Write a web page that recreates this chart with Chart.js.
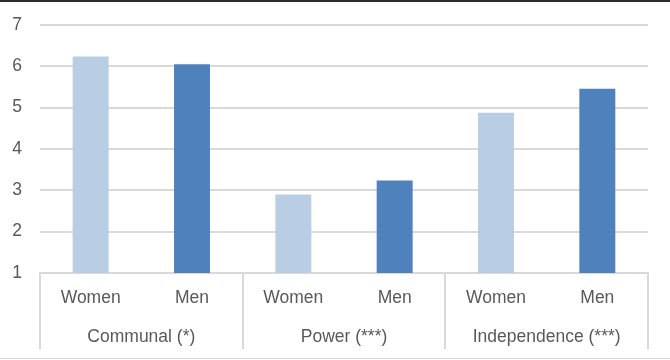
<!DOCTYPE html>
<html>
<head>
<meta charset="utf-8">
<script src="https://cdn.jsdelivr.net/npm/chart.js@4"></script>
<style>
  html, body { margin: 0; padding: 0; background: #fff; }
  #wrap { position: relative; width: 670px; height: 360px; }
  #chart { display: block; }
  #topLine { position: absolute; left: 0; top: 0; width: 670px; height: 2px; background: #2b2b2b; }
  #bottomLine { position: absolute; left: 0; top: 358px; width: 670px; height: 1px; background: #d9d9d9; }
</style>
</head>
<body>
<div id="wrap">
  <canvas id="chart" width="670" height="360"></canvas>
  <div id="topLine"></div>
  <div id="bottomLine"></div>
</div>
<script>
// values
const groups = ['Communal (*)', 'Power (***)', 'Independence (***)'];
const genders = ['Women', 'Men'];
const women = [6.24, 2.90, 4.88];
const men = [6.05, 3.24, 5.46];
const yTicks = [1, 2, 3, 4, 5, 6, 7];

const womenColor = '#B9CDE5';
const menColor = '#4F81BD';
const gridColor = '#D9D9D9';
const textColor = '#595959';
const font = { family: "'Liberation Sans', Arial, sans-serif", size: 17.5 };

// flatten into one bar per gender inside each group
const labels = groups.flatMap(() => genders);
const values = groups.flatMap((_, i) => [women[i], men[i]]);
const colors = groups.flatMap(() => [womenColor, menColor]);

// group names under each pair of bars, centred from the x scale
const groupLabels = {
  id: 'groupLabels',
  afterDraw(chart) {
    const x = chart.scales.x;
    const ctx = chart.ctx;
    ctx.save();
    ctx.fillStyle = textColor;
    ctx.font = font.size + 'px ' + font.family;
    ctx.textAlign = 'center';
    ctx.textBaseline = 'middle';
    groups.forEach((g, i) => {
      const cx = (x.getPixelForValue(i * 2) + x.getPixelForValue(i * 2 + 1)) / 2;
      ctx.fillText(g, cx, chart.chartArea.bottom + 64);
    });
    ctx.restore();
  }
};

new Chart(document.getElementById('chart'), {
  type: 'bar',
  data: {
    labels: labels,
    datasets: [{
      data: values,
      backgroundColor: colors,
      borderWidth: 0,
      barPercentage: 0.355,
      categoryPercentage: 1
    }]
  },
  options: {
    responsive: false,
    animation: false,
    layout: { padding: { top: 25, right: 22, left: 0, bottom: 0 } },
    plugins: { legend: { display: false }, tooltip: { enabled: false } },
    scales: {
      x: {
        offset: true,
        afterFit(scale) { scale.height = 87; },
        border: { display: true, color: gridColor, width: 2 },
        grid: {
          offset: true,
          drawOnChartArea: false,
          drawTicks: true,
          tickLength: 76,
          lineWidth: 2,
          // separators only between the groups
          color: c => (c.index === undefined || c.index % 2 === 0) ? gridColor : 'rgba(0,0,0,0)'
        },
        ticks: {
          color: textColor,
          font: font,
          padding: -61,
          autoSkip: false,
          maxRotation: 0
        }
      },
      y: {
        min: 1,
        max: 7,
        afterFit(scale) { scale.width = 40; },
        afterBuildTicks(scale) { scale.ticks = yTicks.map(v => ({ value: v })); },
        border: { display: false },
        // invisible tick marks keep the labels clear of the plot
        grid: { color: gridColor, lineWidth: 2, drawTicks: true, tickLength: 18, tickColor: 'rgba(0,0,0,0)' },
        ticks: { color: textColor, font: font, padding: 0 }
      }
    }
  },
  plugins: [groupLabels]
});
</script>
</body>
</html>
